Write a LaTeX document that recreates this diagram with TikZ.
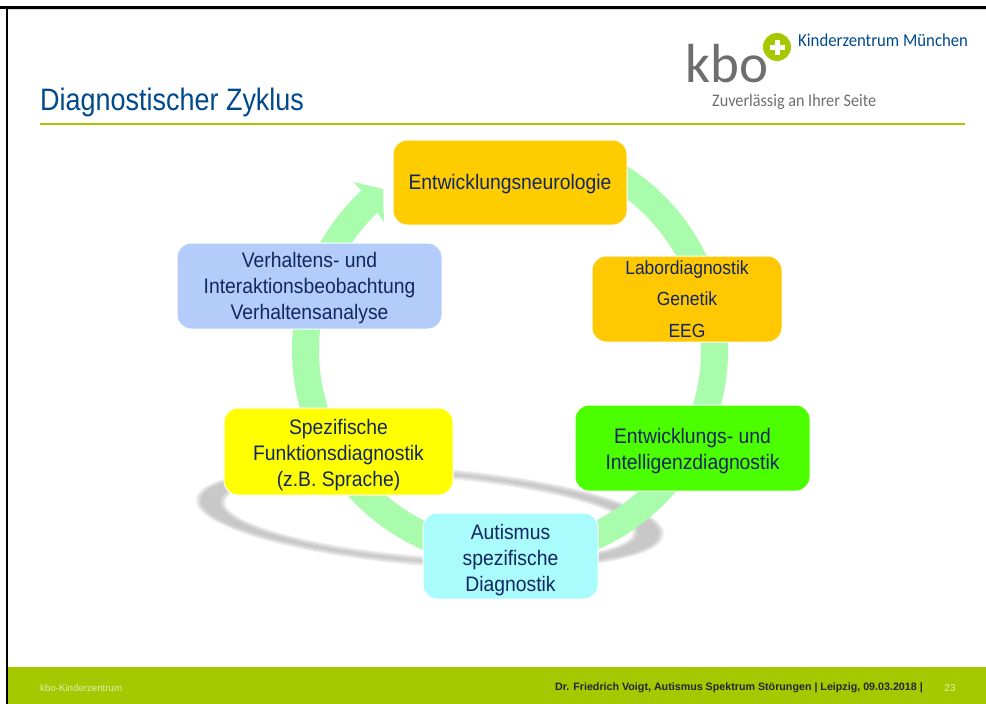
\documentclass[tikz,border=0pt]{standalone}
\usepackage{fontspec}
\setmainfont{Liberation Sans}
\newfontfamily\logofont[FakeStretch=0.92]{Carlito}
\newfontfamily\kbofont{Carlito}
\newfontfamily\boxfont[FakeStretch=0.92]{Liberation Sans}
\newfontfamily\titlefont[FakeStretch=0.87]{Liberation Sans}
\definecolor{navy}{HTML}{12275F}
\definecolor{kbogreen}{HTML}{A5C800}
\definecolor{kboblue}{HTML}{004A8C}
\definecolor{kbogray}{HTML}{6E6E6E}
\definecolor{ringgreen}{HTML}{A8FCAC}
\definecolor{shadowgray}{HTML}{A8A8A8}
\definecolor{boxorange}{RGB}{255,204,0}
\definecolor{boxamber}{RGB}{255,200,0}
\definecolor{boxgreen}{RGB}{76,255,0}
\definecolor{boxcyan}{RGB}{170,251,251}
\definecolor{boxyellow}{RGB}{255,255,0}
\definecolor{boxblue}{RGB}{180,204,250}
\newcommand{\liftline}{\rule{0pt}{21.5pt}}
\tikzset{
  box/.style={draw=white,line width=1pt,rounded corners=14pt,inner sep=0pt,text=navy,align=center,anchor=center},
  bigtext/.style={font=\boxfont\fontsize{21}{26}\selectfont},
  smalltext/.style={font=\boxfont\fontsize{19}{31.5}\selectfont},
}
\begin{document}
\begin{tikzpicture}[x=1pt,y=1pt]
\useasboundingbox (0,0) rectangle (986,-704);
\fill[white] (0,0) rectangle (986,-704);
% frame
\fill[black] (0,-6) rectangle (986,-8.5);
\fill[black] (5.5,-6) rectangle (7.5,-704);
\fill[black!15] (7.5,-8.5) rectangle (986,-9.5);
% footer
\fill[kbogreen] (7.5,-667) rectangle (986,-704);
\node[anchor=west,inner sep=0pt,text=white!70!kbogreen,font=\fontsize{9.7}{12}\selectfont] (fl) at (40,-688) {kbo-Kinderzentrum};
\node[anchor=east,inner sep=0pt,text=black!85,font=\fontsize{10.7}{12}\selectfont\bfseries] (fr) at (923,-688) {Dr. Friedrich Voigt, Autismus Spektrum Störungen | Leipzig, 09.03.2018 |};
\node[anchor=center,inner sep=0pt,text=white!70!kbogreen,font=\fontsize{10}{12}\selectfont] (fn) at (950,-688) {23};
% title
\node[anchor=base west,inner sep=0pt,text=kboblue,font=\titlefont\fontsize{31}{34}\selectfont] (title) at (40,-110) {Diagnostischer Zyklus};
\fill[kbogreen] (40,-123) rectangle (965,-125);
% logo
\node[anchor=base west,inner sep=0pt,text=kbogray,font=\kbofont\fontsize{55}{55}\selectfont] (kbo) at (685,-82) {kbo};
\fill[white] (777,-47) circle (16);
\fill[kbogreen] (777,-47) circle (14);
\fill[white] (774.5,-39.5) rectangle (779.5,-54.5);
\fill[white] (769.5,-44.5) rectangle (784.5,-49.5);
\node[anchor=base west,inner sep=0pt,text=kboblue,font=\logofont\fontsize{18.2}{20}\selectfont] (kz) at (798,-46) {Kinderzentrum München};
\node[anchor=base west,inner sep=0pt,text=kbogray,font=\logofont\fontsize{17.6}{20}\selectfont] (zu) at (712,-106) {Zuverlässig an Ihrer Seite};
% shadow ring
\foreach \d in {-3,-2,-1,0,1,2,3}{
  \begin{scope}[shift={(430,-517)},rotate=-4.3]
    \fill[shadowgray,opacity=0.12,even odd rule] (0,0) ellipse ({232+\d} and {47+\d*0.8}) (-1,0) ellipse ({207-\d} and {41.5-\d*0.8});
  \end{scope}
}
% cycle ring with arrow head
\fill[ringgreen] (510,-350) ++(134:191)
  arc[start angle=134,end angle=425,radius=191]
  -- ++(65:27)
  arc[start angle=425,end angle=133,radius=218]
  -- (353,-182) -- (383,-189) -- (384,-222) -- cycle;
% boxes
\node[box,bigtext,fill=boxorange,minimum width=234pt,minimum height=85pt] (a) at (510,-182.5) {\rule{0pt}{18pt}Entwicklungsneurologie};
\node[box,smalltext,fill=boxamber,minimum width=190pt,minimum height=86pt] (b) at (687,-299) {Labordiagnostik\\Genetik\\EEG};
\node[box,bigtext,fill=boxgreen,minimum width=235pt,minimum height=86pt] (c) at (692.5,-448) {\liftline Entwicklungs- und\\Intelligenzdiagnostik};
\node[box,bigtext,fill=boxcyan,minimum width=175pt,minimum height=86pt] (d) at (510.5,-556) {\rule{0pt}{22.5pt}Autismus\\spezifische\\Diagnostik};
\node[box,bigtext,fill=boxyellow,minimum width=229pt,minimum height=87pt] (e) at (338.5,-451.5) {\liftline Spezifische\\Funktionsdiagnostik\\(z.B. Sprache)};
\node[box,bigtext,fill=boxblue,minimum width=265pt,minimum height=86pt] (f) at (309.5,-286) {\rule{0pt}{19.5pt}Verhaltens- und\\Interaktionsbeobachtung\\Verhaltensanalyse};
\end{tikzpicture}
\end{document}
